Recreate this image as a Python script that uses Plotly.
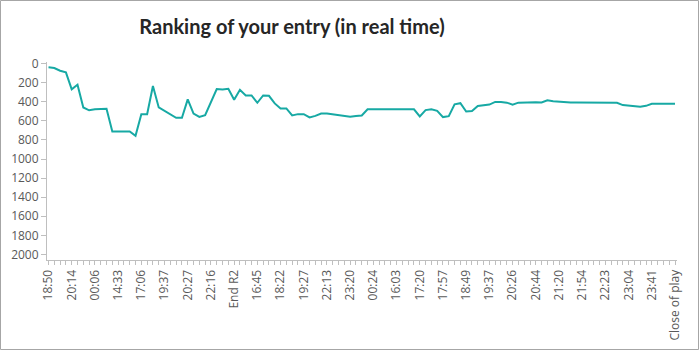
import plotly.graph_objects as go

# Labelled snapshot times (one label every 4 snapshots)
tick_labels = [
    "18:50", "20:14", "00:06", "14:33", "17:06", "19:37", "20:27", "22:16",
    "End R2", "16:45", "18:22", "19:27", "22:13", "23:20", "00:24", "16:03",
    "17:20", "17:57", "18:49", "19:37", "20:26", "20:44", "21:20", "21:54",
    "22:23", "23:04", "23:41", "Close of play",
]
label_step = 4

# Ranking at each snapshot
ranking = [
    40, 47, 75, 92, 270, 222, 460, 490, 478, 476,
    475, 712, 712, 712, 712, 757, 530, 530, 236, 460,
    495, 530, 568, 568, 376, 525, 560, 540, 400, 268,
    272, 265, 380, 275, 334, 334, 411, 334, 338, 418,
    470, 470, 544, 530, 530, 565, 548, 523, 523, 530,
    537, 548, 558, 550, 544, 480, 480, 480, 478, 474,
    478, 480, 480, 480, 554, 488, 480, 495, 561, 551,
    428, 415, 502, 498, 445, 438, 430, 402, 402, 410,
    430, 410, 408, 404, 406, 408, 386, 394, 400, 408,
    408, 408, 408, 411, 411, 411, 411, 411, 411, 435,
    443, 445, 453, 443, 422, 422, 422, 422, 422,
]
rank_ticks = list(range(0, 2001, 200))

snapshots = list(range(len(ranking)))
tick_positions = [i * label_step for i in range(len(tick_labels))]

W, H = 699, 350
ML, MR, MT, MB = 47, 22, 62, 90
PW, PH = W - ML - MR, H - MT - MB

fig = go.Figure(
    go.Scatter(
        x=snapshots,
        y=ranking,
        mode="lines",
        line=dict(color="#17A9A4", width=2),
        hoverinfo="x+y",
    )
)

axis_grey = "#BFBFBF"
text_grey = "#595959"
tick_font = dict(family="Open Sans, Noto Sans, sans-serif", size=12, color=text_grey)

fig.update_layout(
    width=W,
    height=H,
    margin=dict(l=ML, r=MR, t=MT, b=MB),
    paper_bgcolor="white",
    plot_bgcolor="white",
    showlegend=False,
    title=dict(
        text="<b>Ranking of your entry (in real time)</b>",
        font=dict(family="Lato, Open Sans, sans-serif", size=20, color="#262626"),
        x=292 / W,
        xanchor="center",
        xref="container",
        y=1 - 27 / H,
        yanchor="middle",
        yref="container",
    ),
    xaxis=dict(
        automargin=False,
        range=[-0.26, len(ranking) - 1 + 0.34],
        tickmode="array",
        tickvals=tick_positions,
        ticktext=tick_labels,
        tickangle=-90,
        tickfont=tick_font,
        ticks="outside",
        ticklen=4,
        tickcolor=axis_grey,
        showline=True,
        linecolor=axis_grey,
        linewidth=1,
        showgrid=False,
        zeroline=False,
        minor=dict(dtick=1, tick0=0, ticks="outside", ticklen=4, tickcolor=axis_grey, showgrid=False),
    ),
    yaxis=dict(
        automargin=False,
        range=[2058, -16],
        tickmode="array",
        tickvals=rank_ticks,
        ticktext=[str(v) for v in rank_ticks],
        tickfont=tick_font,
        ticks="outside",
        ticklen=5,
        tickcolor=axis_grey,
        showline=True,
        linecolor=axis_grey,
        linewidth=1,
        showgrid=False,
        zeroline=False,
    ),
    shapes=[
        dict(
            type="rect",
            xref="paper",
            yref="paper",
            x0=(0.5 - ML) / PW,
            x1=(W - 0.5 - ML) / PW,
            y0=(MT + PH - (H - 0.5)) / PH,
            y1=(MT + PH - 0.5) / PH,
            line=dict(color="#A6A6A6", width=1),
            fillcolor="rgba(0,0,0,0)",
            layer="below",
        )
    ],
)

fig.write_html("out.html")
